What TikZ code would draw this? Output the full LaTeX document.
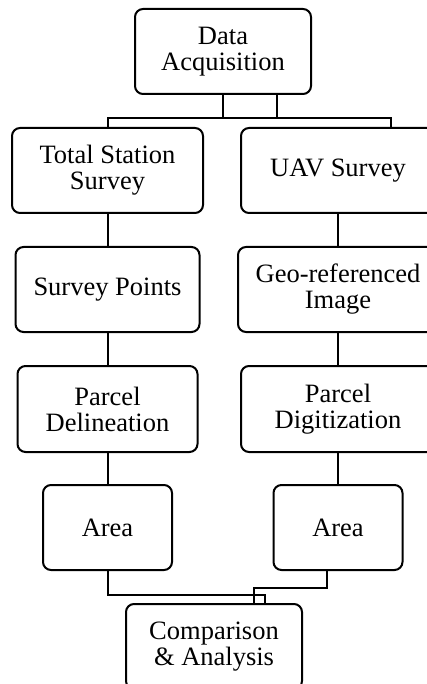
\documentclass[tikz,border=0pt]{standalone}
\usepackage{fontspec}
\setmainfont{Liberation Serif}
\begin{document}
\begin{tikzpicture}[x=1pt,y=-1pt,
  box/.style={draw,line width=2pt,rounded corners=8pt,align=center,inner sep=0pt,
    minimum height=85pt,font=\fontsize{26.5}{26}\selectfont},
  conn/.style={line width=2pt}]
\useasboundingbox (0,0) rectangle (427,684);
\clip (0,0) rectangle (427,684);
\node[box,minimum width=176pt] (da) at (223,51.5) {Data\\Acquisition};
\node[box,minimum width=191pt] (ts) at (107.5,170.5) {Total Station\\Survey};
\node[box,minimum width=194pt] (uav) at (338,170.5) {UAV Survey};
\node[box,minimum width=184pt] (sp) at (107.5,289.5) {Survey Points};
\node[box,minimum width=200pt] (geo) at (338,289.5) {Geo-referenced\\Image};
\node[box,minimum width=180pt,minimum height=86pt] (pd) at (107.5,409) {Parcel\\Delineation};
\node[box,minimum width=194pt,minimum height=86pt] (pdig) at (338,409) {Parcel\\Digitization};
\node[box,minimum width=129pt] (a1) at (107.5,527.5) {Area};
\node[box,minimum width=129pt] (a2) at (338,527.5) {Area};
\node[box,minimum width=176pt] (cmp) at (214,646.5) {Comparison\\\& Analysis};
% top connectors
\coordinate (da1) at (da.south);
\coordinate (da2) at ([xshift=54pt]da.south);
\coordinate (uavin) at ([xshift=53pt]uav.north);
\draw[conn] (da1) -- (223,118) -| (uavin);
\draw[conn] (da2) -- (277,118) -| (ts.north);
% column connectors
\draw[conn] (ts.south) -- (sp.north);
\draw[conn] (sp.south) -- (pd.north);
\draw[conn] (pd.south) -- (a1.north);
\draw[conn] (uav.south) -- (geo.north);
\draw[conn] (geo.south) -- (pdig.north);
\draw[conn] (pdig.south) -- (a2.north);
% bottom connectors
\coordinate (a2out) at ([xshift=-11pt]a2.south);
\coordinate (cin1) at ([xshift=51pt]cmp.north);
\coordinate (cin2) at ([xshift=40pt]cmp.north);
\draw[conn] (a1.south) -- (107.5,595) -| (cin1);
\draw[conn] (a2out) -- (327,588) -| (cin2);
\end{tikzpicture}
\end{document}
